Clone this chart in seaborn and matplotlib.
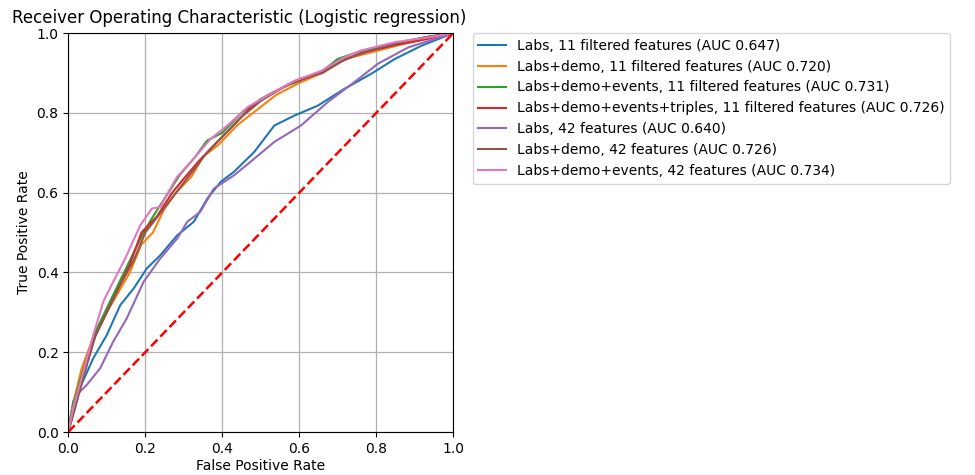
import numpy as np
import pandas as pd
import matplotlib
matplotlib.use('Agg')
import matplotlib.pyplot as plt
import seaborn as sns

# ROC points (fpr, tpr)
labs11_fpr = [0, 0.013, 0.03, 0.065, 0.1, 0.135, 0.17, 0.204, 0.239, 0.283, 0.326, 0.361, 0.396, 0.43, 0.483, 0.535, 0.587, 0.648, 0.717, 0.787, 0.848, 0.917, 1]
labs11_tpr = [0, 0.077, 0.11, 0.185, 0.243, 0.318, 0.36, 0.41, 0.443, 0.493, 0.527, 0.585, 0.627, 0.652, 0.702, 0.768, 0.793, 0.818, 0.86, 0.898, 0.935, 0.968, 1]

demo11_fpr = [0, 0.01, 0.035, 0.07, 0.1, 0.13, 0.16, 0.19, 0.22, 0.25, 0.28, 0.32, 0.35, 0.39, 0.44, 0.48, 0.54, 0.6, 0.66, 0.72, 0.78, 0.86, 0.93, 1]
demo11_tpr = [0, 0.06, 0.16, 0.25, 0.3, 0.35, 0.4, 0.47, 0.5, 0.56, 0.6, 0.64, 0.69, 0.72, 0.77, 0.8, 0.845, 0.875, 0.9, 0.935, 0.95, 0.97, 0.985, 1]

events11_fpr = [0, 0.013, 0.04, 0.07, 0.1, 0.13, 0.16, 0.19, 0.22, 0.26, 0.29, 0.33, 0.36, 0.4, 0.45, 0.5, 0.56, 0.6, 0.66, 0.7, 0.76, 0.85, 0.93, 1]
events11_tpr = [0, 0.07, 0.16, 0.25, 0.31, 0.37, 0.43, 0.49, 0.54, 0.6, 0.645, 0.69, 0.73, 0.75, 0.8, 0.835, 0.865, 0.88, 0.905, 0.935, 0.955, 0.975, 0.99, 1]

triples11_fpr = [0, 0.015, 0.04, 0.07, 0.1, 0.13, 0.16, 0.19, 0.23, 0.27, 0.3, 0.34, 0.38, 0.42, 0.47, 0.52, 0.58, 0.64, 0.7, 0.76, 0.85, 0.93, 1]
triples11_tpr = [0, 0.06, 0.15, 0.24, 0.3, 0.36, 0.42, 0.5, 0.54, 0.6, 0.635, 0.68, 0.72, 0.76, 0.81, 0.845, 0.875, 0.895, 0.925, 0.95, 0.97, 0.985, 1]

labs42_fpr = [0, 0.022, 0.048, 0.083, 0.117, 0.152, 0.196, 0.239, 0.283, 0.309, 0.343, 0.378, 0.43, 0.483, 0.535, 0.604, 0.674, 0.743, 0.804, 0.883, 1]
labs42_tpr = [0, 0.093, 0.118, 0.16, 0.227, 0.285, 0.377, 0.435, 0.485, 0.527, 0.552, 0.61, 0.643, 0.685, 0.727, 0.768, 0.827, 0.877, 0.923, 0.964, 1]

demo42_fpr = [0, 0.015, 0.04, 0.07, 0.1, 0.13, 0.17, 0.2, 0.24, 0.28, 0.32, 0.36, 0.4, 0.45, 0.5, 0.56, 0.6, 0.66, 0.72, 0.78, 0.86, 0.93, 1]
demo42_tpr = [0, 0.05, 0.14, 0.24, 0.3, 0.36, 0.43, 0.5, 0.55, 0.6, 0.65, 0.7, 0.74, 0.79, 0.83, 0.865, 0.885, 0.9, 0.935, 0.955, 0.975, 0.99, 1]

events42_fpr = [0, 0.013, 0.039, 0.065, 0.091, 0.117, 0.148, 0.187, 0.217, 0.239, 0.265, 0.283, 0.326, 0.37, 0.413, 0.465, 0.517, 0.587, 0.657, 0.717, 0.76, 0.848, 0.935, 1]
events42_tpr = [0, 0.06, 0.15, 0.243, 0.327, 0.377, 0.435, 0.518, 0.56, 0.564, 0.61, 0.64, 0.685, 0.735, 0.768, 0.814, 0.843, 0.88, 0.905, 0.939, 0.956, 0.977, 0.989, 1]

labels = [
    'Labs, 11 filtered features (AUC 0.647)',
    'Labs+demo, 11 filtered features (AUC 0.720)',
    'Labs+demo+events, 11 filtered features (AUC 0.731)',
    'Labs+demo+events+triples, 11 filtered features (AUC 0.726)',
    'Labs, 42 features (AUC 0.640)',
    'Labs+demo, 42 features (AUC 0.726)',
    'Labs+demo+events, 42 features (AUC 0.734)',
]
curves = [(labs11_fpr, labs11_tpr), (demo11_fpr, demo11_tpr), (events11_fpr, events11_tpr),
          (triples11_fpr, triples11_tpr), (labs42_fpr, labs42_tpr), (demo42_fpr, demo42_tpr),
          (events42_fpr, events42_tpr)]

fig = plt.figure(figsize=(9.75, 4.75), dpi=100)
ax = fig.add_axes([0.070, 0.0905, 0.395, 0.840])
colors = sns.color_palette('tab10')

for i, (fpr, tpr) in enumerate(curves):
    df = pd.DataFrame({'fpr': fpr, 'tpr': tpr})
    sns.lineplot(data=df, x='fpr', y='tpr', sort=False, estimator=None,
                 color=colors[i], linewidth=1.5, label=labels[i], ax=ax)

ax.plot([0, 1], [0, 1], 'r--', linewidth=1.8)
ax.set_xlim(0, 1)
ax.set_ylim(0, 1)
ax.grid(True, color='#b0b0b0', linewidth=0.9)
ax.set_xlabel('False Positive Rate', fontsize=10, labelpad=2)
ax.set_ylabel('True Positive Rate', fontsize=10)
ax.set_title('Receiver Operating Characteristic (Logistic regression)', fontsize=12, pad=7, x=0.445)
ax.legend(loc='upper left', bbox_to_anchor=(1.05, 1.0), borderaxespad=0, fontsize=10)

plt.savefig('out.png', dpi=100)
